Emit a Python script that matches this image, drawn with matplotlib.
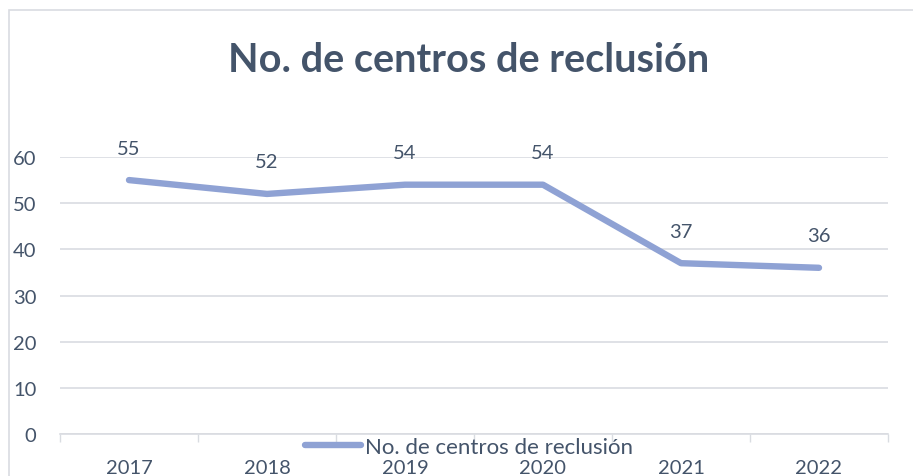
import matplotlib
matplotlib.use("Agg")
import matplotlib.pyplot as plt
from matplotlib.patches import Rectangle

years = ["2017", "2018", "2019", "2020", "2021", "2022"]
values = [55, 52, 54, 54, 37, 36]
series_name = "No. de centros de reclusión"
title = "No. de centros de reclusión"

W, H = 913, 477
fig = plt.figure(figsize=(W / 100, H / 100), dpi=100)
plt.rcParams['font.family'] = ['Lato', 'DejaVu Sans']

text_color = "#44546A"
line_color = "#8FA2D4"
grid_color = "#D9DCE1"

# chart border
fig.patches.append(Rectangle((9 / W, -0.1), 1.2, 1 - 11 / H + 0.1, transform=fig.transFigure,
                             fill=False, edgecolor="#D9DCE1", linewidth=1.2))

ax = fig.add_axes([60 / W, 1 - 435 / H, (888 - 60) / W, (435 - 158) / H])
x = list(range(len(years)))
ax.plot(x, values, color=line_color, linewidth=4.6, solid_capstyle="round",
        solid_joinstyle="round", label=series_name)
for xi, v in zip(x, values):
    ax.annotate(str(v), (xi, v), xytext=(0, 23), textcoords="offset points",
                ha="center", va="center", fontsize=14.5, color=text_color)

ax.set_xlim(-0.5, len(years) - 0.5)
ax.set_ylim(0, 60)
ax.set_yticks(range(0, 61, 10))
ax.set_xticks(x)
ax.set_xticklabels(years)
ax.set_xticks([i - 0.5 for i in range(len(years) + 1)], minor=True)
ax.tick_params(axis="x", which="major", length=0, pad=18, labelsize=14.5, labelcolor=text_color)
ax.tick_params(axis="x", which="minor", length=6, width=1, color=grid_color)
ax.tick_params(axis="y", length=0, pad=17, labelsize=14.5, labelcolor=text_color)
ax.grid(axis="y", color=grid_color, linewidth=1.2)
ax.set_axisbelow(True)
for s in ["top", "right", "left"]:
    ax.spines[s].set_visible(False)
ax.spines["bottom"].set_color(grid_color)
ax.spines["bottom"].set_linewidth(1.2)

fig.text(469 / W, 1 - 61 / H, title, ha="center", va="center", fontsize=28.5,
         fontweight="bold", color=text_color)

leg = fig.legend(loc="center left", bbox_to_anchor=(305 / W, 1 - 448 / H), frameon=False,
                 fontsize=16, handlelength=2.5, handletextpad=0.2, borderpad=0, borderaxespad=0)
for t in leg.get_texts():
    t.set_color(text_color)

fig.savefig("out.png", dpi=100)
